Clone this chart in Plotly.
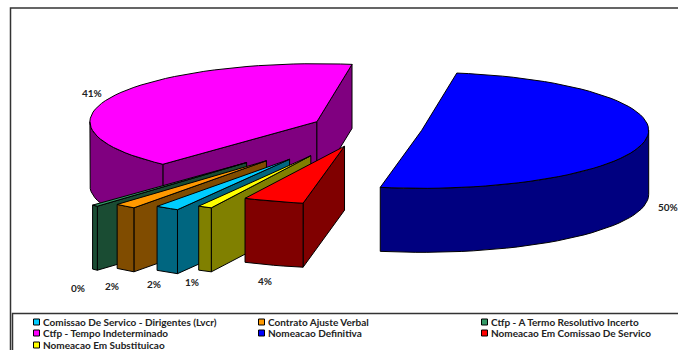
import math
import plotly.graph_objects as go

# Staff distribution by contract type, in percent
categories = [
    "Comissao De Servico - Dirigentes (Lvcr)",
    "Contrato Ajuste Verbal",
    "Ctfp - A Termo Resolutivo Incerto",
    "Ctfp - Tempo Indeterminado",
    "Nomeacao Definitiva",
    "Nomeacao Em Comissao De Servico",
    "Nomeacao Em Substituicao",
]
values = [1.7, 1.5, 0.45, 40.6, 50.45, 4.3, 1.0]
explode = [0.64, 0.72, 0.80, 0.25, 0.24, 0.33, 0.54]
top_colors = ["#00CCFF", "#FF9900", "#339966", "#FF00FF", "#0000FF", "#FF0000", "#FFFF00"]
side_colors = ["#006680", "#804C00", "#1A4C33", "#800080", "#000080", "#800000", "#808000"]

# Pie projection in page pixels
CX, CY = 368, 128
RX, RY = 227, 58
DEPTH = 64

# Paint order, back to front
paint_order = [3, 4, 2, 1, 0, 6, 5]

# Angle where the first slice begins, measured clockwise on the page
START_ANGLE = 119.6


def slice_angles():
    total = sum(values)
    spans, a = [], START_ANGLE
    for v in values:
        b = a + v / total * 360
        spans.append((a, b))
        a = b
    return spans


def arc(cx, cy, a1, a2, drop=0.0):
    n = max(2, int(abs(a2 - a1) / 3) + 2)
    pts = []
    for i in range(n):
        t = math.radians(a1 + (a2 - a1) * i / (n - 1))
        pts.append((cx + RX * math.cos(t), cy + RY * math.sin(t) + drop))
    return pts


def face(points, fill):
    xs = [p[0] for p in points] + [points[0][0]]
    ys = [p[1] for p in points] + [points[0][1]]
    return go.Scatter(x=xs, y=ys, mode="lines", fill="toself", fillcolor=fill,
                      line=dict(color="#000000", width=1), hoverinfo="skip", showlegend=False)


fig = go.Figure()
spans = slice_angles()

for i in paint_order:
    a1, a2 = spans[i]
    mid = math.radians((a1 + a2) / 2)
    ax = CX + explode[i] * RX * math.cos(mid)
    ay = CY + explode[i] * RY * math.sin(mid)
    c1, c2 = math.cos(math.radians(a1)), math.cos(math.radians(a2))

    # Side faces along the two radial edges, when they turn toward the viewer
    for ang, visible in ((a1, c1 < 0), (a2, c2 > 0)):
        if visible:
            edge = arc(ax, ay, ang, ang, 0)[0]
            fig.add_trace(face([(ax, ay), edge, (edge[0], edge[1] + DEPTH), (ax, ay + DEPTH)], side_colors[i]))

    # Outer wall: the part of the rim on the near half of the ellipse
    for k in (0, 1):
        lo, hi = max(a1, 360 * k), min(a2, 360 * k + 180)
        if hi > lo:
            rim = arc(ax, ay, lo, hi)
            low = arc(ax, ay, hi, lo, DEPTH)
            fig.add_trace(face(rim + low, side_colors[i]))

    fig.add_trace(face([(ax, ay)] + arc(ax, ay, a1, a2), top_colors[i]))

# Percentage labels
label_pos = [(154, 284), (112, 286), (78, 288), (92, 93), (668, 207), (265, 281), (192, 282)]
for v, (x, y) in zip(values, label_pos):
    fig.add_annotation(x=x, y=y, text=f"{round(v)}%", showarrow=False,
                       font=dict(family="Lato", size=10, color="#222222", weight="bold"))

# Legend laid out in three columns
legend_pos = [(33, 322), (258, 322), (481, 322), (33, 333), (258, 333), (481, 333), (33, 345)]
fig.add_trace(go.Scatter(
    x=[p[0] + 3.5 for p in legend_pos], y=[p[1] for p in legend_pos], mode="markers",
    marker=dict(symbol="square", size=6, color=top_colors, line=dict(color="#000000", width=1)),
    hoverinfo="skip", showlegend=False))
for name, (x, y) in zip(categories, legend_pos):
    fig.add_annotation(x=x + 8, y=y, text=name, showarrow=False, xanchor="left",
                       font=dict(family="Lato", size=10, color="#222222", weight="bold"))

# Chart frame and legend box
fig.add_shape(type="rect", x0=10.5, y0=8, x1=700, y1=360, line=dict(color="#333333", width=1.5), layer="below")
fig.add_shape(type="rect", x0=12.5, y0=313.5, x1=700, y1=360, line=dict(color="#333333", width=1.5), layer="below")

fig.update_xaxes(range=[0, 678], visible=False)
fig.update_yaxes(range=[350, 0], visible=False)
fig.update_layout(width=678, height=350, margin=dict(l=0, r=0, t=0, b=0),
                  paper_bgcolor="white", plot_bgcolor="white", showlegend=False)
fig.write_html("out.html")
